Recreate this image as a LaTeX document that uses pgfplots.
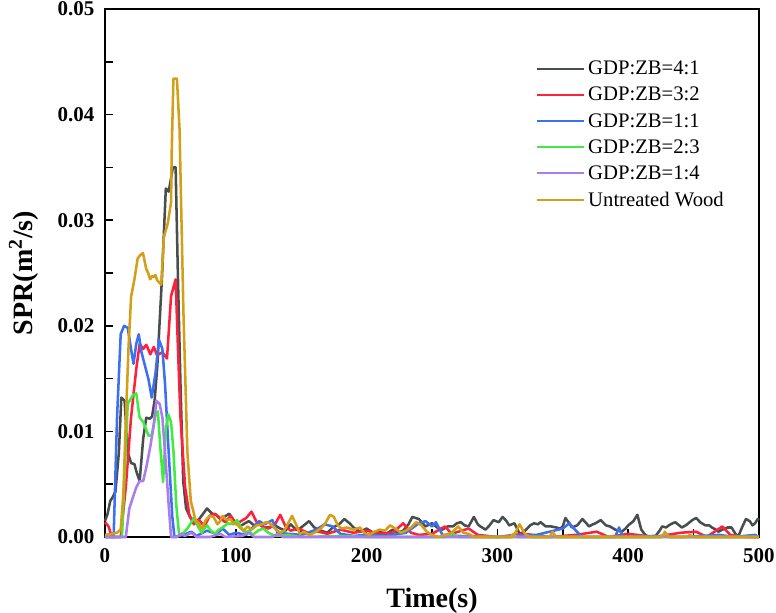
\documentclass[border=0pt]{standalone}
\usepackage{pgfplots}
\pgfplotsset{compat=1.18}
\usepackage{fontspec}
\setmainfont{Liberation Serif}
\definecolor{cgray}{RGB}{72,78,80}
\definecolor{cred}{RGB}{255,32,60}
\definecolor{cblue}{RGB}{60,112,240}
\definecolor{cgreen}{RGB}{64,236,64}
\definecolor{cpurple}{RGB}{170,124,240}
\definecolor{cgold}{RGB}{212,158,22}
\begin{document}
\begin{tikzpicture}
\path[use as bounding box] (0,0) rectangle (582pt,459.75pt);
\begin{axis}[
  at={(78.75pt,57pt)}, anchor=south west,
  scale only axis, width=490.5pt, height=396pt,
  xmin=0, xmax=500, ymin=0, ymax=0.05,
  clip=false,
  axis line style={line width=1.5pt},
  xtick={0,100,200,300,400,500},
  minor xtick={50,150,250,350,450},
  ytick={0,0.01,0.02,0.03,0.04,0.05},
  minor ytick={0.005,0.015,0.025,0.035,0.045},
  scaled y ticks=false,
  yticklabel style={/pgf/number format/fixed, /pgf/number format/fixed zerofill, /pgf/number format/precision=2, xshift=-4.5pt},
  /pgf/number format/assume math mode=true,
  tick align=inside, xtick pos=bottom, ytick pos=left,
  major tick length=6pt, minor tick length=6pt,
  tick style={line width=1.3pt, black},
  ticklabel style={font=\fontsize{15.75}{16}\selectfont\bfseries},
  xticklabel style={yshift=-5pt},
  xlabel={Time(s)}, ylabel={SPR(m\textsuperscript{2}/s)},
  label style={font=\fontsize{21}{21}\selectfont\bfseries},
  xlabel style={at={(axis description cs:0.5,-0.1326)}, anchor=base},
  ylabel style={at={(axis description cs:-0.1116,0.5)}, anchor=base},
  legend cell align=left,
  legend style={draw=none, fill=none, at={(axis description cs:0.659,0.907)}, anchor=north west,
    font=\fontsize{15.5}{18}\selectfont, inner sep=0pt, row sep=3.85pt,
    /tikz/every odd column/.append style={column sep=0.5pt}},
  legend image code/.code={\draw[#1, line width=1.5pt] (0pt,0pt) -- (35pt,0pt);},
  every axis plot/.append style={line width=1.9pt, line join=round},
]
\addplot[cgray] coordinates {
(0,0.0015)(2,0.0022)(4,0.0034)(6,0.0038)(8,0.0043)(10.6,0.008)(12.5,0.0132)(15,0.0129)(17.4,0.008)(20,0.007)(22.5,0.0069)(24.5,0.0060)(26.5,0.0053)(29.2,0.0093)(31.5,0.0113)(34,0.0112)(36,0.0114)(38,0.0130)(40,0.0162)(43.5,0.0244)(46.5,0.033)(48.7,0.0327)(51.9,0.035)(54,0.035)(55.8,0.0244)(57.7,0.0145)(59.8,0.0053)(62,0.0027)
(65,0.0019)(69,0.0014)(72,0.0017)(75,0.0022)(78,0.0027)(82,0.0022)(85,0.0021)(88,0.0017)(91,0.0019)(95,0.0022)(99,0.0015)(103,0.001)(107,0.0013)(110,0.0015)(114,0.0011)(118,0.0012)(122,0.0009)(125,0.0009)(130,0.0011)(134,0.0008)(138,0.0006)(142,0.0012)(146,0.0007)(149,0.0008)(153,0.0012)(156,0.0015)(160,0.0009)(165,0.0006)(170,0.0004)(174,0.0009)(179,0.0012)(183,0.0017)(187,0.0013)(190,0.0009)(195,0.0005)(200,0.0008)(205,0.0004)(210,0.0005)(215,0.0003)(220,0.0007)(224,0.0004)(228,0.0006)(232,0.0012)(235,0.0019)(240,0.0017)(245,0.001)(250,0.0013)(254,0.0009)(258,0.0007)(262,0.001)(266,0.001)(269,0.0013)(272,0.0014)(275,0.0011)(278,0.001)(282,0.0019)(285,0.0012)(287,0.001)(291,0.0007)(294,0.0011)(297,0.0016)(301,0.0014)(304,0.0019)(307,0.0015)(309,0.0011)(313,0.0013)(317,0.0003)(319,0.0004)(322,0.0007)(325,0.0011)(328,0.0013)(331,0.0012)(333,0.0014)(337,0.001)(341,0.001)(345,0.0009)(348,0.0008)(350,0.001)(352,0.0018)(355,0.0013)(357,0.0009)(361,0.0011)(365,0.0017)(368,0.0013)(370,0.001)(373,0.0012)(375,0.0013)(379,0.0016)(383,0.0011)(386,0.001)(390,0.0007)(395,0.0005)(398,0.0008)(400,0.0011)(404,0.0015)(407,0.0021)(410,0.0007)(413,0.0002)(416,0)(421,0.0001)(424,0.0006)(426,0.001)(429,0.0009)(431,0.0011)(434,0.0013)(436,0.0014)(439,0.0011)(441,0.0009)(444,0.0011)(446,0.0013)(449,0.0016)(452,0.0018)(455,0.0014)(459,0.0011)(462,0.0011)(464,0.0009)(467,0.0007)(469,0.0005)(472,0.0007)(476,0.0009)(479,0.0009)(482,0.0003)(484,0)(487,0.0009)(490,0.0017)(493,0.0015)(495,0.0011)(497,0.0013)(499,0.0017)(500,0.0016)
};
\addlegendentry{GDP:ZB=4:1}
\addplot[cred] coordinates {
(0,0.0014)(2.7,0.001)(5.3,0)(12,0)(15.9,0.0047)(19.9,0.0113)(23.9,0.0159)(26.5,0.0183)(29.2,0.0178)(31.6,0.0182)(34.7,0.0173)(37.3,0.018)(39.8,0.0172)(43.9,0.0175)(47.4,0.0169)(50.5,0.0228)(54,0.0244)(55.8,0.0178)(57.7,0.0113)(61.3,0.0047)(64.6,0.002)
(68,0.0012)(72,0.0016)(76,0.001)(80,0.002)(84,0.0022)(88,0.0018)(92,0.0014)(96,0.002)(100,0.0012)(104,0.0015)(108,0.0018)(112,0.0024)(116,0.0014)(120,0.001)(125,0.0008)(130,0.0012)(134,0.0021)(138,0.001)(142,0.0006)(148,0.0008)(155,0.0004)(160,0.0006)(170,0.0003)(180,0.0007)(190,0.0004)(200,0.0006)(210,0.0003)(220,0.0004)(228,0.0013)(234,0.0004)(240,0.0002)(250,0.0003)(260,0.001)(265,0.0003)(278,0.0008)(285,0.0002)(300,0)(320,0.0003)(340,0)(360,0.0002)(376,0.0005)(385,0)(400,0.0003)(420,0)(440,0.0004)(452,0.0005)(460,0)(472,0.001)(478,0.0002)(490,0)(500,0)
};
\addlegendentry{GDP:ZB=3:2}
\addplot[cblue] coordinates {
(0,0)(6.6,0)(9.2,0.0113)(12,0.0192)(14.6,0.0200)(17.4,0.0198)(19.9,0.0178)(21.8,0.0164)(23.9,0.0183)(25.8,0.0192)(27.9,0.0175)(30.6,0.0162)(33.3,0.0149)(35.7,0.0132)(38.6,0.0155)(41.2,0.0187)(43.9,0.0178)(45.9,0.0145)(48.7,0.008)(51.4,0.002)(53.1,0)
(60,0.0002)(66,0.0005)(70,0.0001)(78,0.0006)(85,0.0003)(90,0.0008)(95,0.0002)(100,0.0004)(108,0.0002)(112,0.0008)(118,0.0015)(122,0.0012)(128,0.0016)(132,0.0004)(140,0.0003)(150,0.0002)(160,0.0006)(168,0.0012)(174,0.001)(180,0.0003)(190,0.0001)(200,0.0002)(215,0.0001)(230,0.0004)(240,0.0013)(245,0.0015)(250,0.001)(253,0.0014)(258,0.0002)(270,0.0001)(300,0)(330,0.0002)(350,0.0008)(355,0.0013)(360,0.0006)(365,0)(390,0)(393,0.0009)(396,0)(420,0.0001)(440,0)(470,0.0002)(480,0)(497,0.0002)(500,0)
};
\addlegendentry{GDP:ZB=1:1}
\addplot[cgreen] coordinates {
(0,0)(13,0)(14.6,0.0047)(17.4,0.0126)(21.2,0.0134)(23.9,0.0136)(26.5,0.0113)(29.2,0.0109)(33.3,0.0096)(35.7,0.0096)(38.6,0.0116)(40.4,0.0119)(42.6,0.008)(44.4,0.0052)(46.6,0.0103)(48.4,0.0116)(50.5,0.0109)(52.4,0.008)(54.5,0.003)(56.7,0.0002)
(60,0.0004)(63,0.0008)(65,0.0012)(68,0.0018)(71,0.001)(74,0.0004)(76,0.0008)(78,0.0011)(81,0.0006)(84,0.0003)(87,0.0007)(90,0.0009)(94,0.0013)(98,0.0012)(101,0.0016)(104,0.0009)(107,0.0004)(110,0.0006)(113,0.0002)(117,0.0006)(121,0.0008)(125,0.0004)(130,0.0001)(140,0.0002)(150,0)(180,0.0001)(200,0)(260,0)(266,0.0003)(270,0)(310,0)(312,0.0003)(315,0)(425,0)(428,0.0003)(431,0)(500,0)
};
\addlegendentry{GDP:ZB=2:3}
\addplot[cpurple] coordinates {
(0,0)(15.9,0)(18.6,0.0027)(21.2,0.0037)(23.9,0.0047)(26.5,0.0053)(29.2,0.0053)(31.6,0.0066)(34.7,0.0086)(37.3,0.0106)(39.3,0.0129)(41.8,0.0126)(43.9,0.0113)(45.9,0.008)(48.7,0.003)(50.5,0)
(55,0)(58,0.0003)(61,0.0001)(66,0.0004)(70,0)(80,0)(88,0.0003)(92,0)(105,0.0001)(110,0.0004)(114,0)(128,0)(132,0.0003)(136,0)(500,0)
};
\addlegendentry{GDP:ZB=1:4}
\addplot[cgold] coordinates {
(0,0.0002)(5,0.0003)(9,0.0004)(12,0.0007)(14,0.004)(16,0.0113)(18,0.018)(20,0.0228)(22.5,0.0244)(25,0.0264)(27,0.0267)(29,0.0269)(31.5,0.0254)(33,0.0250)(34.5,0.0244)(36,0.0247)(37,0.0246)(38.5,0.0248)(40,0.0243)(43,0.0239)(45,0.0284)(48,0.0297)(50.5,0.0317)(51,0.0364)(52.3,0.0434)(55,0.0434)(57,0.0386)(60,0.0211)(63,0.0080)(65.6,0.0034)
(69,0.0017)(72,0.0012)(74,0.0008)(77,0.0016)(80,0.002)(83,0.0019)(86,0.0012)(88,0.0015)(90,0.002)(93,0.0016)(96,0.0017)(98,0.0013)(101,0.0012)(103,0.0009)(106,0.0006)(109,0.001)(112,0.0007)(116,0.0011)(120,0.0012)(123,0.0014)(126,0.0013)(130,0.0008)(134,0.0004)(137,0.0006)(140,0.0013)(143,0.002)(146,0.0012)(149,0.0003)(152,0.0005)(156,0.0002)(160,0.0004)(165,0.0008)(168,0.0012)(172,0.0021)(175,0.0019)(178,0.0011)(181,0.0008)(185,0.0009)(190,0.0007)(195,0.0009)(198,0.0004)(202,0.0002)(206,0.0005)(210,0.0007)(214,0.0006)(218,0.0011)(222,0.0008)(226,0.0004)(230,0.0006)(234,0.0009)(238,0.0014)(242,0.0011)(246,0.0005)(250,0.0002)(255,0)(260,0.0002)(265,0.0004)(270,0.001)(274,0.0004)(278,0.0003)(282,0)(312,0)(317,0.0012)(321,0.0003)(325,0)(340,0)(342,0.0005)(345,0)(426,0)(428,0.0005)(431,0)(445,0)(447,0.0002)(450,0)(500,0)
};
\addlegendentry{Untreated Wood}
\end{axis}
\end{tikzpicture}
\end{document}
